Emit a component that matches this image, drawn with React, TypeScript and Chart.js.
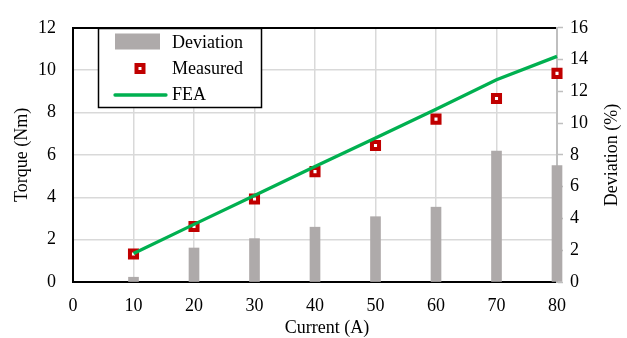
import React, { useEffect, useRef } from "react";
import { Chart, registerables } from "chart.js";

Chart.register(...registerables);

const current = [10, 20, 30, 40, 50, 60, 70, 80];
const deviation = [0.3, 2.14, 2.73, 3.45, 4.11, 4.71, 8.24, 7.32];
const measured = [1.32, 2.62, 3.92, 5.21, 6.44, 7.69, 8.66, 9.85];
const fea = [1.35, 2.72, 4.08, 5.45, 6.8, 8.15, 9.55, 10.65];

const xTitle = "Current (A)";
const yTitle = "Torque (Nm)";
const y2Title = "Deviation (%)";

const FONT = '"Liberation Serif", "Times New Roman", serif';
const BAR_COLOR = "#aeaaaa";
const RED = "#c00000";
const GREEN = "#00b050";

const overlayPlugin = {
  id: "overlay",
  afterDraw(chart: any) {
    const ctx = chart.ctx as CanvasRenderingContext2D;
    const area = chart.chartArea;
    ctx.save();
    ctx.font = `18px ${FONT}`;
    ctx.fillStyle = "#000";
    // axis titles
    ctx.textAlign = "center";
    ctx.textBaseline = "alphabetic";
    ctx.fillText(xTitle, 327, 333);
    const cy = (area.top + area.bottom) / 2;
    ctx.save();
    ctx.translate(27, cy);
    ctx.rotate(-Math.PI / 2);
    ctx.fillText(yTitle, 0, 0);
    ctx.restore();
    ctx.save();
    ctx.translate(617, cy);
    ctx.rotate(-Math.PI / 2);
    ctx.fillText(y2Title, 0, 0);
    ctx.restore();

    // legend
    const ds = chart.data.datasets;
    const lx = 98, ly = 28, lw = 163, lh = 79;
    ctx.fillStyle = "#fff";
    ctx.fillRect(lx, ly, lw, lh);
    ctx.strokeStyle = "#000";
    ctx.lineWidth = 1.5;
    ctx.strokeRect(lx + 0.5, ly + 0.5, lw, lh);
    // Deviation
    ctx.fillStyle = BAR_COLOR;
    ctx.fillRect(115, 33.5, 45, 16);
    // Measured
    ctx.fillStyle = "#fff";
    ctx.strokeStyle = RED;
    ctx.lineWidth = 4;
    ctx.beginPath();
    ctx.rect(140 - 3.5, 68.5 - 3.5, 7, 7);
    ctx.fill();
    ctx.stroke();
    // FEA
    ctx.strokeStyle = GREEN;
    ctx.lineWidth = 3.3;
    ctx.lineCap = "round";
    ctx.beginPath();
    ctx.moveTo(115, 95);
    ctx.lineTo(166, 95);
    ctx.stroke();
    ctx.fillStyle = "#000";
    ctx.textAlign = "left";
    ctx.fillText(ds[0].label, 172, 48);
    ctx.fillText(ds[1].label, 172, 74);
    ctx.fillText(ds[2].label, 172, 100);
    ctx.restore();
  },
};

export default function App() {
  const canvasRef = useRef<HTMLCanvasElement | null>(null);

  useEffect(() => {
    if (!canvasRef.current) return;
    const chart = new Chart(canvasRef.current, {
      type: "line",
      data: {
        datasets: [
          {
            type: "bar",
            label: "Deviation",
            data: current.map((x, i) => ({ x, y: deviation[i] })),
            backgroundColor: BAR_COLOR,
            barThickness: 10,
            yAxisID: "y2",
            xAxisID: "x",
            order: 3,
            clip: false,
          } as any,
          {
            type: "line",
            label: "Measured",
            data: current.map((x, i) => ({ x, y: measured[i] })),
            showLine: false,
            pointStyle: "rect",
            pointRadius: 5,
            pointBorderWidth: 4,
            pointBorderColor: RED,
            pointBackgroundColor: "#fff",
            yAxisID: "y",
            order: 2,
            clip: false,
          },
          {
            type: "line",
            label: "FEA",
            data: current.map((x, i) => ({ x, y: fea[i] })),
            borderColor: GREEN,
            borderWidth: 3.3,
            pointRadius: 0,
            tension: 0,
            yAxisID: "y",
            order: 1,
            clip: false,
          },
        ],
      },
      options: {
        animation: false,
        responsive: true,
        maintainAspectRatio: false,
        layout: { padding: { top: 14, left: 0, right: 0, bottom: 0 } },
        plugins: {
          legend: { display: false },
          tooltip: { enabled: false },
        },
        scales: {
          x: {
            type: "linear",
            min: 0,
            max: 80,
            offset: false,
            ticks: { stepSize: 10, font: { family: FONT, size: 18 }, color: "#000", padding: 13, maxRotation: 0 },
            grid: { color: "#d9d9d9", lineWidth: 1.5, drawTicks: false, offset: false },
            border: { color: "#000", width: 2 },
            afterFit: (s: any) => { s.height = 56; },
          },
          y: {
            type: "linear",
            position: "left",
            min: 0,
            max: 12,
            ticks: { stepSize: 2, font: { family: FONT, size: 18 }, color: "#000", padding: 17 },
            grid: {
              color: (c: any) => (c.tick && c.tick.value === 12 ? "#000" : "#d9d9d9"),
              lineWidth: (c: any) => (c.tick && c.tick.value === 12 ? 2 : 1.5),
              drawTicks: false,
            },
            border: { color: "#000", width: 2 },
            afterFit: (s: any) => { s.width = 73; },
          },
          y2: {
            type: "linear",
            position: "right",
            min: 0,
            max: 16,
            ticks: { stepSize: 2, font: { family: FONT, size: 18 }, color: "#000", padding: 7 },
            grid: { drawOnChartArea: false, drawTicks: true, tickLength: 6, tickColor: "#bfbfbf", tickWidth: 1.5 },
            border: { color: "#bfbfbf", width: 2 },
            afterFit: (s: any) => { s.width = 70; },
          },
        },
      },
      plugins: [overlayPlugin],
    });
    return () => chart.destroy();
  }, []);

  return (
    <div style={{ position: "fixed", left: 0, top: 0, width: 627, height: 338, background: "#fff" }}>
      <canvas ref={canvasRef} />
    </div>
  );
}
